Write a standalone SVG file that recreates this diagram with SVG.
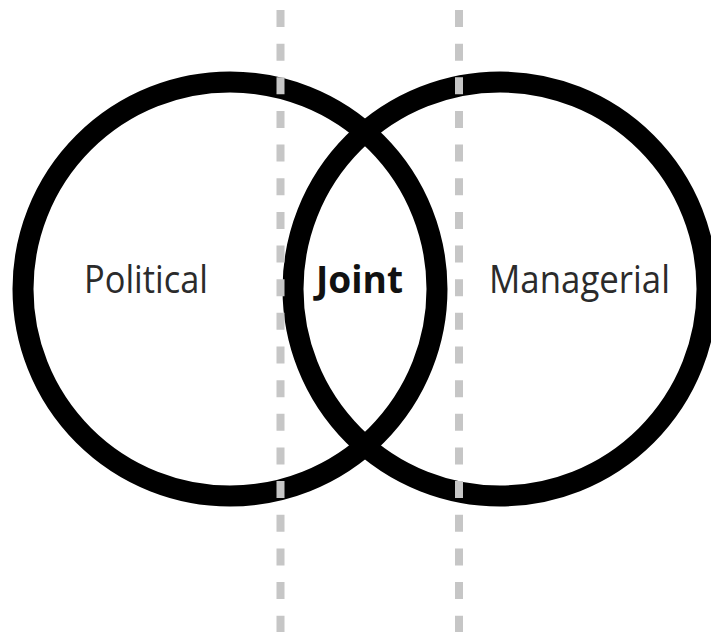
<svg xmlns="http://www.w3.org/2000/svg" width="711" height="632" viewBox="0 0 711 632">
<style>
.ring{fill:none;stroke:#000;stroke-width:21}
.guide{stroke:#c6c6c6;stroke-width:8;stroke-dasharray:17 16.65;fill:none}
.lbl{font-family:"Open Sans","Noto Sans","Liberation Sans",sans-serif;font-size:38px;fill:#2b2b2b}
.bold{font-weight:bold;fill:#111}
</style>
<rect width="711" height="632" fill="#fff"/>
<g id="political">
<circle class="ring" cx="230" cy="289" r="207"/>
<text class="lbl" x="84" y="293" textLength="124" lengthAdjust="spacingAndGlyphs">Political</text>
</g>
<g id="managerial">
<circle class="ring" cx="500" cy="289" r="207"/>
<text class="lbl" x="489" y="293" textLength="181" lengthAdjust="spacingAndGlyphs">Managerial</text>
</g>
<g id="joint">
<text class="lbl bold" x="316" y="293" textLength="87" lengthAdjust="spacingAndGlyphs">Joint</text>
</g>
<g id="connectors">
<line class="guide" x1="280.5" y1="10" x2="280.5" y2="632"/>
<line class="guide" x1="459" y1="10" x2="459" y2="632"/>
</g>
</svg>
